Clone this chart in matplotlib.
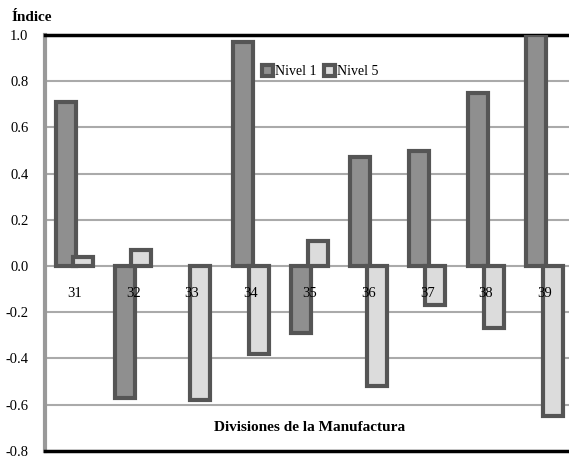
import numpy as np
import matplotlib.pyplot as plt

plt.rcParams['font.family'] = ['Liberation Serif', 'DejaVu Serif']

divisiones = ['31', '32', '33', '34', '35', '36', '37', '38', '39']
nivel1 = [0.71, -0.57, 0.0, 0.97, -0.29, 0.47, 0.50, 0.75, 1.0]
nivel5 = [0.04, 0.07, -0.58, -0.38, 0.11, -0.52, -0.17, -0.27, -0.65]
yticks = [-0.8, -0.6, -0.4, -0.2, 0.0, 0.2, 0.4, 0.6, 0.8, 1.0]

fig = plt.figure(figsize=(5.69, 4.61), dpi=100)
ax = fig.add_axes([0.079, 0.022, 0.93, 0.902])

x = np.arange(len(divisiones))
w = 0.34
n1 = np.array(nivel1)
# zero values are not drawn as bars
n1_edges = ['#555555' if v != 0 else 'none' for v in n1]
ax.bar(x - 0.14, n1, w, color='#8f8f8f', edgecolor=n1_edges, linewidth=3,
       label='Nivel 1', zorder=3)
ax.bar(x + 0.14, nivel5, w, color='#dcdcdc', edgecolor='#555555', linewidth=3,
       label='Nivel 5', zorder=3)

for yv in yticks[1:-1]:
    ax.axhline(yv, color='#aaaaaa', lw=1.5, zorder=1)

for xi, lab in zip(x, divisiones):
    ax.text(xi, -0.12, lab, ha='center', va='center', fontsize=10.5, zorder=4)

ax.set_xlim(-0.5, 8.5)
ax.set_ylim(-0.8, 1.0)
ax.set_xticks([])
ax.set_yticks(yticks)
ax.set_yticklabels([f'{v:.1f}' for v in yticks], fontsize=10.5)
ax.tick_params(axis='y', length=0, pad=12)

for s in ['top', 'bottom']:
    ax.spines[s].set_color('black')
    ax.spines[s].set_linewidth(2.5)
ax.spines['left'].set_color('#999999')
ax.spines['left'].set_linewidth(3)
ax.spines['right'].set_visible(False)

ax.text(4.0, -0.70, 'Divisiones de la Manufactura', ha='center', va='center',
        fontsize=11, fontweight='bold')
fig.text(0.021, 0.962, 'Índice', fontsize=11, fontweight='bold', va='center')

ax.legend(loc='center', bbox_to_anchor=(0.52, 0.912), ncol=2, frameon=False,
          fontsize=10, handlelength=0.8, handleheight=0.8, handletextpad=0.1,
          columnspacing=0.6)

fig.savefig('out.png', dpi=100)
